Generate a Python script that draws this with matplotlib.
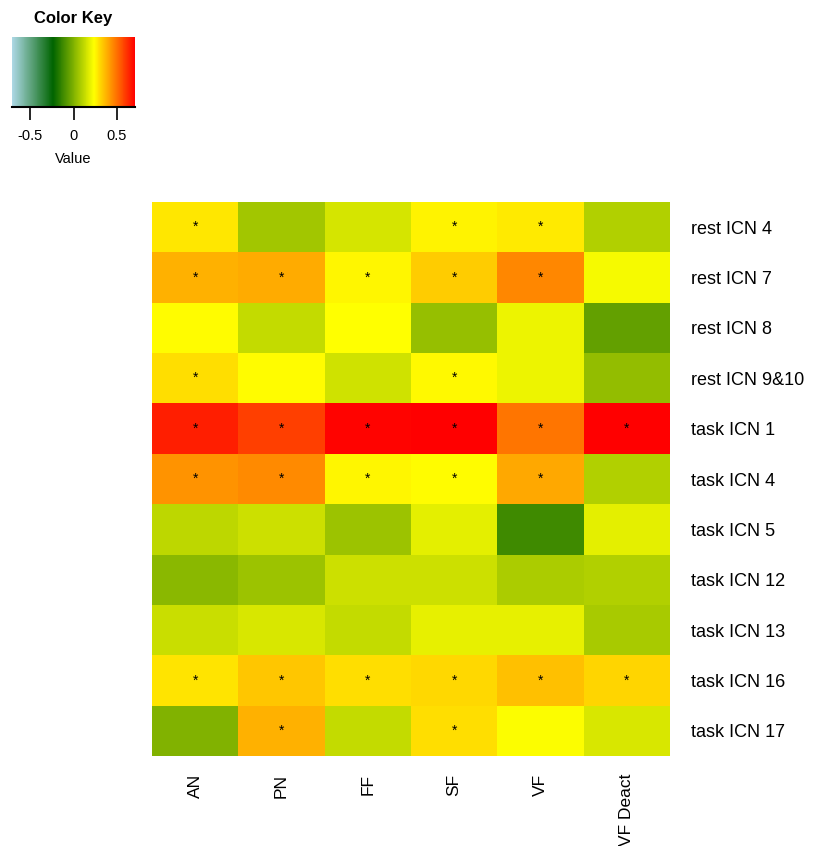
import numpy as np
import matplotlib
matplotlib.use("Agg")
import matplotlib.pyplot as plt
from matplotlib.colors import LinearSegmentedColormap, Normalize
from matplotlib.cm import ScalarMappable

plt.rcParams['font.family'] = ['Liberation Sans', 'DejaVu Sans']

rows = ["rest ICN 4", "rest ICN 7", "rest ICN 8", "rest ICN 9&10", "task ICN 1",
        "task ICN 4", "task ICN 5", "task ICN 12", "task ICN 13", "task ICN 16", "task ICN 17"]
cols = ["AN", "PN", "FF", "SF", "VF", "VF Deact"]

values = [
    [0.28, 0.066, 0.157, 0.26, 0.275, 0.094],
    [0.38, 0.39, 0.25, 0.33, 0.46, 0.218],
    [0.24, 0.125, 0.237, 0.042, 0.205, -0.055],
    [0.294, 0.24, 0.145, 0.245, 0.205, 0.038],
    [0.65, 0.59, 0.70, 0.71, 0.49, 0.71],
    [0.436, 0.45, 0.25, 0.24, 0.395, 0.094],
    [0.112, 0.142, 0.055, 0.185, -0.12, 0.185],
    [0.02, 0.05, 0.14, 0.14, 0.08, 0.094],
    [0.135, 0.165, 0.124, 0.19, 0.19, 0.077],
    [0.287, 0.34, 0.294, 0.31, 0.354, 0.315],
    [0.0, 0.38, 0.126, 0.294, 0.228, 0.166],
]

signif = [
    [1, 0, 0, 1, 1, 0],
    [1, 1, 1, 1, 1, 0],
    [0, 0, 0, 0, 0, 0],
    [1, 0, 0, 1, 0, 0],
    [1, 1, 1, 1, 1, 1],
    [1, 1, 1, 1, 1, 0],
    [0, 0, 0, 0, 0, 0],
    [0, 0, 0, 0, 0, 0],
    [0, 0, 0, 0, 0, 0],
    [1, 1, 1, 1, 1, 1],
    [0, 1, 0, 1, 0, 0],
]

key_ticks = [-0.5, 0, 0.5]
vmin, vmax = -0.71, 0.71

cmap = LinearSegmentedColormap.from_list(
    "key", ["#ADD8E6", "#006400", "#FFFF00", "#FF0000"], N=256)
norm = Normalize(vmin=vmin, vmax=vmax)

W, H = 813, 846
fig = plt.figure(figsize=(W / 100, H / 100), dpi=100)

# heatmap
ax = fig.add_axes([152 / W, 1 - 756 / H, (670 - 152) / W, (756 - 202) / H])
data = np.array(values)
ax.pcolormesh(np.arange(len(cols) + 1), np.arange(len(rows) + 1), data,
              cmap=cmap, norm=norm)
ax.set_xlim(0, len(cols))
ax.set_ylim(len(rows), 0)
for i in range(len(rows)):
    for j in range(len(cols)):
        if signif[i][j]:
            ax.text(j + 0.5, i + 0.5, "*", ha="center", va="center",
                    fontsize=10, color="black")
for s in ax.spines.values():
    s.set_visible(False)
ax.yaxis.tick_right()
ax.set_yticks(np.arange(len(rows)) + 0.5)
ax.set_yticklabels(rows, fontsize=13, va="center_baseline")
ax.set_xticks(np.arange(len(cols)) + 0.5)
ax.set_xticklabels(cols, rotation=90, fontsize=12.5, va="top")
ax.tick_params(axis="both", length=0)
ax.tick_params(axis="y", pad=15)
ax.tick_params(axis="x", pad=13)

# color key
cax = fig.add_axes([12 / W, 1 - 107 / H, 123 / W, 70 / H])
cb = fig.colorbar(ScalarMappable(norm=norm, cmap=cmap), cax=cax,
                  orientation="horizontal", ticks=key_ticks)
cb.outline.set_visible(False)
cax.plot([vmin, vmax], [cax.get_ylim()[0]] * 2, color="black", lw=1.5,
         clip_on=False)
cax.set_xticklabels(["-0.5", "0", "0.5"], fontsize=10.5)
cax.tick_params(axis="x", length=9, width=1.2, pad=7, direction="out")
cax.set_xlabel("Value", fontsize=10.5, labelpad=6)
fig.text(73 / W, 1 - 19 / H, "Color Key", ha="center", va="center",
         fontsize=12, fontweight="bold")

fig.savefig("out.png", dpi=100)
